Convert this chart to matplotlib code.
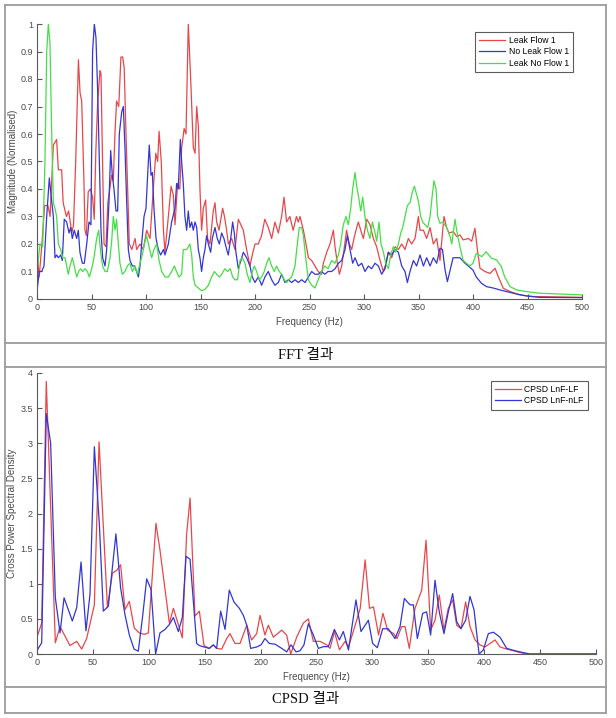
import matplotlib
matplotlib.use("Agg")
import matplotlib.pyplot as plt
from matplotlib.lines import Line2D

# ---------------- FFT data (normalised magnitude) ----------------
red_freq = [
    0, 2, 4.5, 7, 10, 12, 15, 18, 19.6, 22.6,
    24, 27, 29, 32, 33.5, 35.5, 38, 39.5, 41, 43,
    44, 45.3, 47, 49, 51, 52.5, 54, 55.7, 57.8, 58.7,
    60.2, 61.5, 63.3, 65, 68.5, 70, 71.5, 73, 75, 77,
    78.6, 80, 82, 84.7, 87, 90, 91.4, 94.5, 97.5, 100.6,
    103.7, 106.7, 109, 110.7, 112, 114, 116, 117.4, 120.5, 123,
    125, 126.6, 129, 131, 132.7, 135, 136.7, 138.8, 141, 143.4,
    145, 146.5, 148, 149.5, 151, 152.6, 154.7, 156.5, 158.7, 161.7,
    163.3, 164.8, 167, 170.3, 172, 174, 175.5, 178.6, 181.6, 184.7,
    187, 189.3, 192.3, 195.4, 197.5, 200, 203, 206, 209, 212.2,
    215.3, 218.3, 221.4, 224.4, 226.6, 229, 232, 235, 238, 239.7,
    241.3, 244.4, 246.8, 249, 252, 255, 258, 261, 262.7, 265.8,
    268.8, 271.9, 273.4, 275.6, 277.4, 279.5, 281.7, 284, 286.6, 288.7,
    290.8, 293.3, 294.8, 297, 299.4, 302.5, 305.5, 308.6, 311.6, 314.7,
    317.8, 320.2, 322.3, 325.4, 328.5, 331.5, 334.6, 337.6, 340.7, 343.7,
    346.8, 349.9, 351.4, 354.5, 357.5, 360.6, 363.6, 366.7, 369.7, 373.4,
    375.8, 378, 382, 385, 388, 391, 395.7, 398.8, 401.8, 404,
    406.4, 411, 415.6, 420.2, 423.2, 427.8, 434, 443, 455, 500]
red_mag = [
    0.17, 0.08, 0.2, 0.34, 0.34, 0.3, 0.56, 0.58, 0.47, 0.47,
    0.35, 0.3, 0.32, 0.24, 0.27, 0.5, 0.87, 0.75, 0.72, 0.44,
    0.25, 0.23, 0.39, 0.4, 0.37, 0.29, 0.54, 0.72, 0.83, 0.82,
    0.48, 0.2, 0.19, 0.35, 0.45, 0.43, 0.6, 0.72, 0.7, 0.88,
    0.88, 0.84, 0.55, 0.2, 0.18, 0.22, 0.18, 0.2, 0.18, 0.25,
    0.22, 0.4, 0.53, 0.5, 0.61, 0.5, 0.25, 0.17, 0.3, 0.41,
    0.38, 0.27, 0.42, 0.4, 0.55, 0.62, 0.6, 1.0, 0.8, 0.55,
    0.53, 0.7, 0.63, 0.4, 0.25, 0.33, 0.36, 0.22, 0.2, 0.32,
    0.35, 0.28, 0.25, 0.33, 0.3, 0.25, 0.2, 0.22, 0.18, 0.29,
    0.27, 0.25, 0.18, 0.12, 0.16, 0.2, 0.2, 0.23, 0.29, 0.26,
    0.22, 0.28, 0.24, 0.3, 0.37, 0.28, 0.3, 0.25, 0.3, 0.28,
    0.3, 0.25, 0.2, 0.15, 0.14, 0.12, 0.1, 0.09, 0.13, 0.17,
    0.2, 0.25, 0.19, 0.13, 0.09, 0.12, 0.18, 0.25, 0.2, 0.18,
    0.22, 0.26, 0.28, 0.25, 0.22, 0.29, 0.27, 0.22, 0.19, 0.14,
    0.1, 0.13, 0.17, 0.15, 0.19, 0.18, 0.2, 0.18, 0.22, 0.2,
    0.22, 0.3, 0.25, 0.25, 0.22, 0.26, 0.2, 0.22, 0.14, 0.3,
    0.26, 0.24, 0.245, 0.227, 0.233, 0.215, 0.22, 0.21, 0.257, 0.18,
    0.112, 0.1, 0.093, 0.112, 0.081, 0.039, 0.027, 0.015, 0.009, 0.006]

blue_freq = [
    0, 2.1, 4.3, 6.4, 8.9, 11.3, 12.8, 15, 16.5, 18,
    19.6, 21.7, 23.2, 25, 27.2, 29.4, 30.9, 32.4, 34.2, 36.4,
    37.9, 39.4, 41.6, 43.4, 45.6, 47.7, 49.5, 51, 52.6, 54.1,
    55.7, 57.2, 58.7, 60.2, 62.4, 63.9, 66, 67.6, 69.1, 70.6,
    72.5, 74, 75.5, 77.7, 79.2, 80.7, 82.3, 83.8, 85.3, 87.5,
    89.3, 91.4, 93, 94.5, 96, 98.2, 100, 101.5, 103, 104.6,
    105.8, 107.3, 109.2, 111.3, 113.5, 116, 117.4, 120.5, 123.5, 126.6,
    128.1, 129.6, 131.5, 132.7, 134.2, 135.7, 137.3, 138.8, 140.3, 141.9,
    143.4, 145, 146.5, 148, 149.5, 151, 152.6, 154.1, 155.6, 157.2,
    159.3, 160.8, 163.3, 165.4, 167.3, 169.4, 171.5, 174, 175.5, 177.7,
    179.5, 181, 182.5, 184.7, 187.1, 189.3, 192.3, 195.4, 197.5, 200,
    203, 206.1, 209.1, 212.2, 215.3, 218.3, 221.4, 224.4, 227.5, 230.6,
    233.6, 236.7, 239.7, 242.8, 245.9, 249, 252, 255, 258, 261,
    264, 267, 270.3, 273.4, 276.5, 279.5, 282.6, 284.7, 287.2, 289.6,
    291.8, 294.8, 297.9, 300.9, 304, 307, 310.1, 313.2, 316.2, 319.3,
    322.3, 325.4, 328.5, 331.5, 334.6, 337.6, 339.8, 342.2, 345.3, 348.3,
    351.4, 354.5, 357.5, 360.6, 363.6, 366.7, 369.7, 372, 374.4, 376.5,
    381.7, 388, 392.7, 395.7, 400, 403, 407.8, 412.4, 418.5, 424.7,
    430.8, 440, 449, 461, 500]
blue_mag = [
    0.03, 0.1, 0.1, 0.12, 0.3, 0.44, 0.38, 0.3, 0.15, 0.16,
    0.15, 0.16, 0.14, 0.29, 0.28, 0.24, 0.26, 0.22, 0.25, 0.22,
    0.25, 0.17, 0.13, 0.13, 0.2, 0.28, 0.27, 0.9, 1.0, 0.95,
    0.75, 0.5, 0.25, 0.15, 0.12, 0.18, 0.35, 0.54, 0.45, 0.4,
    0.32, 0.32, 0.6, 0.68, 0.7, 0.55, 0.35, 0.18, 0.14, 0.12,
    0.12, 0.1, 0.08, 0.12, 0.2, 0.3, 0.33, 0.45, 0.56, 0.45,
    0.46, 0.33, 0.22, 0.18, 0.16, 0.18, 0.16, 0.2, 0.28, 0.33,
    0.42, 0.4, 0.58, 0.5, 0.42, 0.3, 0.25, 0.32, 0.26, 0.28,
    0.25, 0.28, 0.26, 0.18, 0.15, 0.1, 0.15, 0.18, 0.23, 0.2,
    0.17, 0.22, 0.26, 0.22, 0.2, 0.24, 0.22, 0.18, 0.16, 0.22,
    0.28, 0.24, 0.17, 0.11, 0.14, 0.17, 0.15, 0.12, 0.08, 0.06,
    0.08, 0.05, 0.08, 0.1, 0.07, 0.05, 0.06, 0.09, 0.06, 0.07,
    0.06, 0.07, 0.06, 0.07, 0.06, 0.08, 0.1, 0.09, 0.09, 0.1,
    0.09, 0.1, 0.1, 0.11, 0.13, 0.14, 0.18, 0.23, 0.18, 0.13,
    0.15, 0.12, 0.13, 0.1, 0.12, 0.11, 0.13, 0.12, 0.09, 0.11,
    0.17, 0.16, 0.18, 0.17, 0.12, 0.1, 0.06, 0.1, 0.14, 0.12,
    0.16, 0.12, 0.15, 0.12, 0.15, 0.13, 0.185, 0.18, 0.105, 0.063,
    0.15, 0.15, 0.13, 0.12, 0.105, 0.08, 0.057, 0.045, 0.04, 0.033,
    0.027, 0.018, 0.011, 0.006, 0.005]

green_freq = [
    0, 2.8, 5.2, 7.3, 8.9, 10.4, 11.9, 13.5, 15, 16.5,
    18, 19.6, 21.7, 23.5, 25.7, 27.2, 28.7, 30.3, 32.4, 34.2,
    36.4, 38.2, 40, 41.9, 44, 46.2, 48, 50.2, 52.3, 54.7,
    56.6, 58.4, 60.2, 62.4, 64.5, 67, 68.5, 70, 71.6, 73,
    74.6, 76.1, 78.3, 80.7, 82.9, 85.3, 87.5, 90, 92, 94.5,
    96.6, 98.5, 100.6, 102.8, 105.2, 107.3, 109.8, 112, 114.4, 117.4,
    120.5, 123.5, 126, 128, 130.2, 132.7, 134.2, 135.7, 137.3, 138.8,
    140.3, 141.9, 143.4, 145, 148, 151, 154.1, 157.2, 160.2, 162.7,
    164.8, 167.3, 169.4, 172.4, 174.9, 177.3, 179.5, 181.6, 184, 186.2,
    188.4, 190.8, 192.9, 195.4, 197.5, 199.4, 201.5, 204, 206.1, 208.5,
    210.7, 212.8, 215.3, 217.7, 219.8, 222.3, 224.4, 226.9, 229, 231.2,
    233.6, 236.7, 238.8, 240.6, 242.8, 244.4, 246.8, 249, 252, 255,
    258, 261, 264, 267, 270.3, 273.4, 276.5, 278.6, 281, 283.5,
    285.6, 287.8, 289.6, 291.8, 293.3, 295.1, 297, 298.8, 300.9, 303.1,
    305.5, 307.7, 310.1, 311.6, 313.8, 315.6, 317.8, 319.9, 322.3, 324.5,
    326.9, 329.1, 331.5, 333.7, 335.5, 337.6, 339.8, 342.2, 344.4, 346.2,
    348.3, 350.2, 352, 353.8, 356, 358.4, 360.6, 362.7, 364.2, 366.1,
    367.6, 369.7, 372.5, 375.8, 379, 380.5, 383.5, 385, 388, 391,
    397, 400, 403, 408, 412, 417, 421.6, 426, 429, 434,
    440, 449, 461, 500]
green_mag = [
    0.1, 0.2, 0.19, 0.5, 0.9, 1.0, 0.93, 0.6, 0.35, 0.33,
    0.3, 0.2, 0.18, 0.15, 0.15, 0.12, 0.09, 0.12, 0.15, 0.12,
    0.08, 0.1, 0.11, 0.1, 0.11, 0.1, 0.08, 0.11, 0.15, 0.22,
    0.25, 0.17, 0.12, 0.1, 0.1, 0.15, 0.21, 0.3, 0.25, 0.29,
    0.2, 0.13, 0.09, 0.1, 0.12, 0.13, 0.1, 0.12, 0.09, 0.13,
    0.16, 0.2, 0.23, 0.19, 0.15, 0.18, 0.2, 0.14, 0.1, 0.08,
    0.08, 0.1, 0.12, 0.1, 0.08, 0.09, 0.18, 0.18, 0.18, 0.19,
    0.2, 0.16, 0.08, 0.05, 0.04, 0.03, 0.035, 0.05, 0.08, 0.1,
    0.09, 0.08, 0.09, 0.11, 0.1, 0.11, 0.08, 0.07, 0.07, 0.14,
    0.15, 0.13, 0.09, 0.06, 0.1, 0.12, 0.1, 0.07, 0.08, 0.1,
    0.13, 0.15, 0.12, 0.1, 0.12, 0.1, 0.09, 0.07, 0.06, 0.07,
    0.08, 0.12, 0.2, 0.26, 0.26, 0.23, 0.14, 0.07, 0.05, 0.04,
    0.07, 0.1, 0.12, 0.11, 0.14, 0.13, 0.16, 0.2, 0.27, 0.3,
    0.27, 0.33, 0.4, 0.46, 0.41, 0.37, 0.32, 0.37, 0.3, 0.25,
    0.22, 0.28, 0.24, 0.21, 0.28, 0.2, 0.17, 0.13, 0.11, 0.16,
    0.19, 0.17, 0.2, 0.24, 0.26, 0.3, 0.34, 0.35, 0.39, 0.41,
    0.38, 0.35, 0.3, 0.28, 0.27, 0.26, 0.3, 0.38, 0.43, 0.4,
    0.3, 0.275, 0.28, 0.26, 0.226, 0.2, 0.29, 0.25, 0.19, 0.14,
    0.12, 0.13, 0.166, 0.154, 0.172, 0.148, 0.142, 0.118, 0.081, 0.045,
    0.033, 0.027, 0.021, 0.015]

# ---------------- CPSD data ----------------
cpsd_lf_freq = [
    0, 4.2, 8.3, 16.4, 20.6, 29.5, 35.5, 40, 44.4, 51.3,
    55.5, 63, 67.4, 71.3, 74.8, 78.7, 82.6, 87, 91.5, 96,
    99.6, 106.4, 110, 118.4, 122, 126.4, 130, 133.8, 136.9, 141.3,
    145.2, 149.4, 154.1, 157.7, 160.7, 165.2, 169.7, 172.6, 177.1, 181.6,
    187.6, 192, 196.5, 199.5, 203.9, 206.9, 211.4, 218.9, 223.3, 226.9,
    232.3, 238.2, 242.7, 247.2, 253.2, 259.1, 262.1, 266, 270.5, 275.6,
    278.6, 284.6, 289.1, 293.5, 297.4, 301, 305.5, 309.4, 313.6, 319,
    322, 326.2, 329.2, 333, 338.1, 344.1, 348, 352.1, 356, 359.8,
    364, 367.9, 371.8, 375.4, 379.2, 383.4, 387.3, 391.8, 396.2, 400.7,
    405.2, 409.7, 414.1, 420.1, 426, 432, 438, 444, 500]
cpsd_lf = [
    0.24, 0.44, 3.88, 0.16, 0.39, 0.12, 0.18, 0.07, 0.22, 0.7,
    3.02, 0.66, 1.15, 1.19, 1.27, 0.63, 0.75, 0.37, 0.3, 0.28,
    0.3, 1.86, 1.48, 0.44, 0.65, 0.42, 0.23, 1.7, 2.22, 0.54,
    0.61, 0.12, 0.08, 0.13, 0.08, 0.07, 0.22, 0.29, 0.15, 0.15,
    0.41, 0.2, 0.29, 0.55, 0.27, 0.41, 0.24, 0.34, 0.27, 0.0,
    0.24, 0.44, 0.5, 0.18, 0.18, 0.13, 0.08, 0.32, 0.06, 0.18,
    0.1, 0.41, 0.65, 1.34, 0.65, 0.67, 0.27, 0.58, 0.34, 0.29,
    0.22, 0.39, 0.39, 0.08, 0.65, 0.91, 1.62, 0.34, 0.48, 0.84,
    0.34, 0.65, 0.77, 0.41, 0.36, 0.74, 0.39, 0.2, 0.13, 0.1,
    0.15, 0.2, 0.1, 0.07, 0.047, 0.02, 0.0, 0.0, 0.0]

cpsd_nlf_freq = [
    0, 4.2, 8.3, 12.2, 16.4, 20.6, 24.2, 31.6, 35.5, 39.4,
    43.8, 47.4, 51.3, 55.8, 59.3, 63.8, 70.6, 74.8, 78.7, 82.6,
    86.8, 90.6, 94.5, 98.1, 102, 106.1, 110, 114.5, 118.4, 122,
    126.4, 130, 133.3, 136.9, 142.8, 145.2, 149.4, 154.1, 157.7, 160.7,
    164.3, 168.2, 172, 176.2, 181, 184.6, 187.6, 191.1, 196.5, 200.4,
    203.9, 207.8, 212.9, 218.9, 223.3, 227.2, 231.7, 235.2, 238.8, 242.7,
    247.2, 251.7, 256.2, 260.6, 266, 270.5, 274, 278.6, 285.3, 289.8,
    296.4, 300.2, 304.4, 309.2, 314.2, 320.2, 324.7, 328.6, 333.6, 336.6,
    340.2, 345, 348.5, 352.1, 356, 359.8, 364, 367.9, 371.8, 375.4,
    379.2, 383.4, 387.3, 390.9, 395.4, 399.2, 403.7, 408.2, 414.1, 420.1,
    427.5, 435, 441, 500]
cpsd_nlf = [
    0.05, 0.16, 3.42, 3.0, 0.8, 0.3, 0.8, 0.47, 0.66, 1.31,
    0.33, 0.85, 2.95, 1.84, 0.61, 0.68, 1.71, 0.94, 0.56, 0.27,
    0.07, 0.04, 0.54, 1.07, 0.92, 0.0, 0.3, 0.35, 0.42, 0.52,
    0.32, 0.52, 1.39, 1.35, 0.15, 0.12, 0.1, 0.08, 0.13, 0.08,
    0.61, 0.35, 0.91, 0.74, 0.65, 0.55, 0.41, 0.08, 0.1, 0.13,
    0.22, 0.15, 0.14, 0.08, 0.03, 0.13, 0.03, 0.045, 0.13, 0.43,
    0.27, 0.08, 0.105, 0.105, 0.35, 0.2, 0.32, 0.057, 0.77, 0.32,
    0.48, 0.15, 0.09, 0.36, 0.36, 0.22, 0.39, 0.79, 0.7, 0.7,
    0.22, 0.58, 0.6, 0.27, 1.05, 0.6, 0.29, 0.6, 0.86, 0.46,
    0.36, 0.48, 0.82, 0.63, 0.0, 0.057, 0.29, 0.31, 0.24, 0.08,
    0.047, 0.02, 0.0, 0.0]

fft_labels = ["Leak Flow 1", "No Leak Flow 1", "Leak No Flow 1"]
cpsd_labels = ["CPSD LnF-LF", "CPSD LnF-nLF"]
fft_yticks = [0, 0.1, 0.2, 0.3, 0.4, 0.5, 0.6, 0.7, 0.8, 0.9, 1]
fft_yticklabels = ["0", "0.1", "0.2", "0.3", "0.4", "0.5", "0.6", "0.7", "0.8", "0.9", "1"]
cpsd_yticks = [0, 0.5, 1, 1.5, 2, 2.5, 3, 3.5, 4]
cpsd_yticklabels = ["0", "0.5", "1", "1.5", "2", "2.5", "3", "3.5", "4"]
xticks = [0, 50, 100, 150, 200, 250, 300, 350, 400, 450, 500]
captions = ["FFT 결과", "CPSD 결과"]

RED = "#e8474a"
BLUE = "#3336d4"
GREEN = "#46de46"
AX_COL = "#5a5a5a"
TXT_COL = "#4a4a4a"

plt.rcParams["font.family"] = ["Liberation Sans", "DejaVu Sans"]

W, H = 616, 718
fig = plt.figure(figsize=(W / 100, H / 100), dpi=100)
fig.patch.set_facecolor("white")


def fx(px):
    return px / W


def fy(py):
    return 1 - py / H


# table frame
frame_col = "#9c9c9c"
lw = 1.3
for (x0, y0, x1, y1) in [(5, 5, 606, 5), (5, 713, 606, 713), (5, 5, 5, 713), (606, 5, 606, 713),
                         (5, 343, 606, 343), (5, 367, 606, 367), (5, 687, 606, 687)]:
    fig.add_artist(Line2D([fx(x0), fx(x1)], [fy(y0), fy(y1)], color=frame_col, lw=lw,
                          transform=fig.transFigure))

cap_font = ["Liberation Serif", "Noto Sans CJK KR"]
fig.text(fx(306), fy(355), captions[0], ha="center", va="center", fontsize=10.5,
         family=cap_font, color="#111111")
fig.text(fx(306), fy(700), captions[1], ha="center", va="center", fontsize=10.5,
         family=cap_font, color="#111111")


def style_axes(ax):
    for s in ("top", "right"):
        ax.spines[s].set_visible(False)
    for s in ("left", "bottom"):
        ax.spines[s].set_color(AX_COL)
        ax.spines[s].set_linewidth(0.8)
    ax.tick_params(direction="in", length=3.5, width=0.8, color=AX_COL,
                   labelsize=6.5, labelcolor=TXT_COL, pad=3)
    ax.set_xticks(xticks)
    ax.set_xticklabels([str(t) for t in xticks])
    ax.set_xlim(0, 500)


# ---------- FFT axes ----------
ax1 = fig.add_axes([fx(37), fy(299), fx(582) - fx(37), fy(24) - fy(299)])
ax1.plot(red_freq, red_mag, color=RED, lw=0.9, label=fft_labels[0])
ax1.plot(blue_freq, blue_mag, color=BLUE, lw=0.9, label=fft_labels[1])
ax1.plot(green_freq, green_mag, color=GREEN, lw=0.9, label=fft_labels[2])
ax1.set_ylim(0, 1)
style_axes(ax1)
ax1.set_yticks(fft_yticks)
ax1.set_yticklabels(fft_yticklabels)
ax1.set_xlabel("Frequency (Hz)", fontsize=7, color=TXT_COL)
ax1.set_ylabel("Magnitude (Normalised)", fontsize=7, color=TXT_COL)
ax1.xaxis.set_label_coords(0.5, (299 - 317) / 275)
ax1.yaxis.set_label_coords((18 - 37) / 545, 0.5)
leg1 = ax1.legend(loc="upper right", bbox_to_anchor=((573 - 37) / 545, (299 - 32) / 275),
                  fontsize=6.2, frameon=True, fancybox=False, edgecolor="#333333",
                  handlelength=3.0, borderpad=0.5, labelspacing=0.25, handletextpad=0.4,
                  borderaxespad=0)
leg1.get_frame().set_linewidth(0.8)

# ---------- CPSD axes ----------
ax2 = fig.add_axes([fx(37), fy(654), fx(596) - fx(37), fy(373) - fy(654)])
ax2.plot(cpsd_lf_freq, cpsd_lf, color=RED, lw=0.9, label=cpsd_labels[0])
ax2.plot(cpsd_nlf_freq, cpsd_nlf, color=BLUE, lw=0.9, label=cpsd_labels[1])
ax2.set_ylim(0, 4)
style_axes(ax2)
ax2.set_yticks(cpsd_yticks)
ax2.set_yticklabels(cpsd_yticklabels)
ax2.set_xlabel("Frequency (Hz)", fontsize=7, color=TXT_COL)
ax2.set_ylabel("Cross Power Spectral Density", fontsize=7, color=TXT_COL)
ax2.xaxis.set_label_coords(0.5, (654 - 672) / 281)
ax2.yaxis.set_label_coords((17 - 37) / 559, 0.5)
leg2 = ax2.legend(loc="upper right", bbox_to_anchor=((588 - 37) / 559, (654 - 381) / 281),
                  fontsize=6.2, frameon=True, fancybox=False, edgecolor="#333333",
                  handlelength=3.0, borderpad=0.5, labelspacing=0.25, handletextpad=0.4,
                  borderaxespad=0)
leg2.get_frame().set_linewidth(0.8)

fig.savefig("out.png", dpi=100, facecolor="white")
